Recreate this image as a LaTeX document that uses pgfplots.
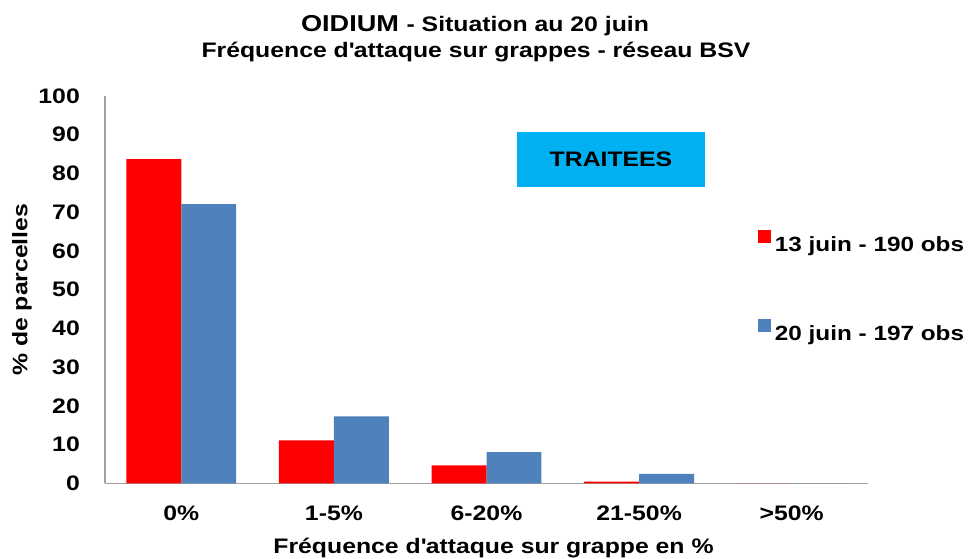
\documentclass[border=0pt]{standalone}
\usepackage{pgfplots}
\pgfplotsset{compat=1.18}
\usepackage{fontspec}
\setmainfont{Liberation Sans}[FakeStretch=1.18]
\newcommand\f{\fontsize{21pt}{25pt}\selectfont\bfseries}
\newcommand\fl{\fontsize{20.6pt}{25pt}\selectfont\bfseries}
\definecolor{cred}{HTML}{FF0000}
\definecolor{cblue}{HTML}{4F81BD}
\definecolor{ccyan}{HTML}{00B0F0}
\definecolor{caxis}{HTML}{A0A0A0}
\begin{document}
\begin{tikzpicture}
\useasboundingbox (0,0) rectangle (969pt,559pt);
\begin{axis}[
  at={(105pt,75.5pt)}, anchor=south west,
  scale only axis, width=763pt, height=387.5pt,
  xmin=-0.5, xmax=4.5, ymin=0, ymax=100,
  axis x line=bottom, axis y line=left,
  axis line style={-, draw=caxis, line width=1.5pt},
  ytick={0,10,...,100},
  xtick={0,1,2,3,4},
  xticklabels={0\%,1-5\%,6-20\%,21-50\%,>50\%},
  major tick length=0pt,
  /pgf/number format/assume math mode=true,
  tick label style={font=\f, inner sep=0pt},
  yticklabel style={anchor=east, xshift=-25pt},
  xticklabel style={anchor=base, yshift=-37.5pt},
  ybar=0pt, bar width=0.36,
  xlabel={Fréquence d\textquotesingle attaque sur grappe en \%},
  xlabel style={font=\f, inner sep=0pt, at={(axis description cs:0.5,0)}, anchor=base, yshift=-70pt, xshift=7pt},
  ylabel={\% de parcelles},
  ylabel style={font=\f, inner sep=0pt, at={(axis description cs:0,0.5)}, anchor=center, yshift=83pt},
  legend image code/.code={\fill[#1] (0pt,2pt) rectangle (13pt,15pt);},
  legend style={draw=none, fill=none, inner sep=0pt,
    at={(axis description cs:0.8555,0.655)}, anchor=north west,
    row sep=66pt, column sep=4pt,
    nodes={inner sep=0pt, font=\fl}},
  legend cell align=left,
]
\addplot[fill=cred, draw=none] coordinates {(0,83.7) (1,11.1) (2,4.7) (3,0.5) (4,0)};
\addplot[fill=cblue, draw=none] coordinates {(0,72.1) (1,17.3) (2,8.1) (3,2.5) (4,0)};
\legend{13 juin - 190 obs, 20 juin - 197 obs}
\end{axis}
\fill[ccyan] (517pt,372pt) rectangle (705pt,427pt);
\node[font=\f, inner sep=0pt] at (611pt,399.5pt) {TRAITEES};
\node[anchor=base, inner sep=0pt] at (475pt,527pt) {\fontsize{23pt}{27pt}\selectfont\bfseries OIDIUM \fontsize{21pt}{25pt}\selectfont - Situation au 20 juin};
\node[anchor=base, inner sep=0pt, font=\f] at (476pt,501pt) {Fréquence d\textquotesingle attaque sur grappes - réseau BSV};
\end{tikzpicture}
\end{document}
